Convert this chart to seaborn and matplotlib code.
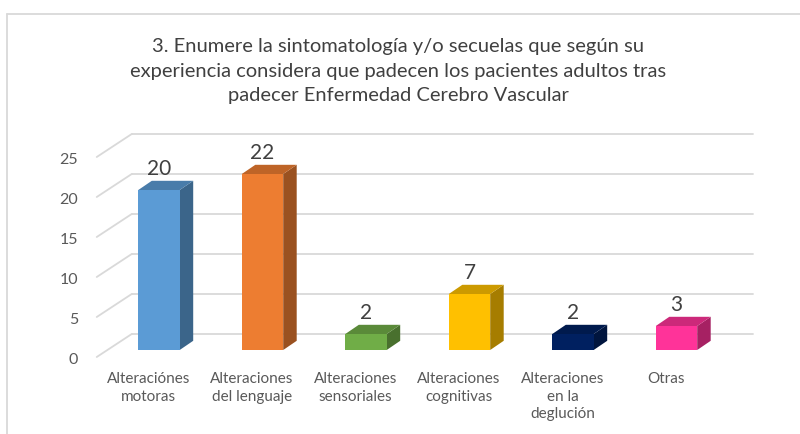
import matplotlib
matplotlib.use("Agg")
import matplotlib.pyplot as plt
import seaborn as sns
import pandas as pd
import numpy as np
from matplotlib.patches import Polygon
from matplotlib.lines import Line2D

categories = ["Alteraciónes\nmotoras", "Alteraciones\ndel lenguaje", "Alteraciones\nsensoriales",
              "Alteraciones\ncognitivas", "Alteraciones\nen la\ndeglución", "Otras"]
values = [20, 22, 2, 7, 2, 3]
colors = ["#5B9BD5", "#ED7D31", "#70AD47", "#FFC000", "#002060", "#FF3399"]
yticks = [0, 5, 10, 15, 20, 25]
title = ("3. Enumere la sintomatología y/o secuelas que según su\n"
         "experiencia considera que padecen los pacientes adultos tras\n"
         "padecer Enfermedad Cerebro Vascular")

sns.set_style("white")
plt.rcParams["font.family"] = ["Lato", "DejaVu Sans"]

W, H = 800, 434
fig = plt.figure(figsize=(W / 100, H / 100), dpi=100)
ax = fig.add_axes([0, 0, 1, 1])

df = pd.DataFrame({"cat": categories, "val": values})
sns.barplot(data=df, x="cat", y="val", hue="cat", palette=colors, width=0.4,
            legend=False, ax=ax, saturation=1, edgecolor="none", linewidth=0, zorder=3)

# pixel mapping: x_px = 159 + 103.5*x ; y_px = 350 - 8*y
x0px, xs = 159, 103.5
y0px, ys = 350, 8.0
ax.set_xlim((0 - x0px) / xs, (W - x0px) / xs)
ax.set_ylim((y0px - H) / ys, y0px / ys)
ax.axis("off")

# depth offsets (data units)
back_dx, back_dy = 24.5 / xs, 16 / ys      # bar-front plane -> back wall
front_dx, front_dy = -10.5 / xs, -7 / ys   # bar-front plane -> floor front
bar_dx, bar_dy = 13.5 / xs, 9.2 / ys       # bar depth

grid_c = "#D9D9D9"
xl, xr = -0.5, 5.5
for v in yticks:
    ax.plot([xl + back_dx, xr + back_dx], [v + back_dy, v + back_dy], color=grid_c, lw=1.3, zorder=1)
    ax.plot([xl + front_dx, xl + back_dx], [v + front_dy, v + back_dy], color=grid_c, lw=1.3, zorder=1)
    ax.text(-0.783, v - 1.2, str(v), ha="right", va="center", fontsize=11.5, color="#595959")

def shade(c, f):
    r, g, b = matplotlib.colors.to_rgb(c)
    return (r * f, g * f, b * f)

for p, c, v in zip(ax.patches, colors, values):
    xa = p.get_x()
    xb = xa + p.get_width()
    h = p.get_height()
    side = Polygon([(xb, 0), (xb + bar_dx, bar_dy), (xb + bar_dx, h + bar_dy), (xb, h)],
                   closed=True, facecolor=shade(c, 0.65), edgecolor="none", zorder=2)
    top = Polygon([(xa, h), (xb, h), (xb + bar_dx, h + bar_dy), (xa + bar_dx, h + bar_dy)],
                  closed=True, facecolor=shade(c, 0.8), edgecolor="none", zorder=2)
    ax.add_patch(side)
    ax.add_patch(top)
    ax.text(xa + p.get_width() / 2, h + 2.6, str(v), ha="center", va="center",
            fontsize=15, color="#404040", zorder=4)

for i, cat in enumerate(categories):
    ax.text(i + front_dx, -2.8, cat, ha="center", va="top", fontsize=11,
            color="#595959", linespacing=1.3)

fig.text(0.4975, 1 - 38 / H, title, ha="center", va="top", fontsize=14.5,
         color="#404040", linespacing=1.55, transform=fig.transFigure)

# chart border
fig.add_artist(Line2D([7 / W, 1], [1 - 14 / H, 1 - 14 / H], color=grid_c, lw=1.3, transform=fig.transFigure))
fig.add_artist(Line2D([7 / W, 7 / W], [0, 1 - 14 / H], color=grid_c, lw=1.3, transform=fig.transFigure))

fig.savefig("out.png", dpi=100)
